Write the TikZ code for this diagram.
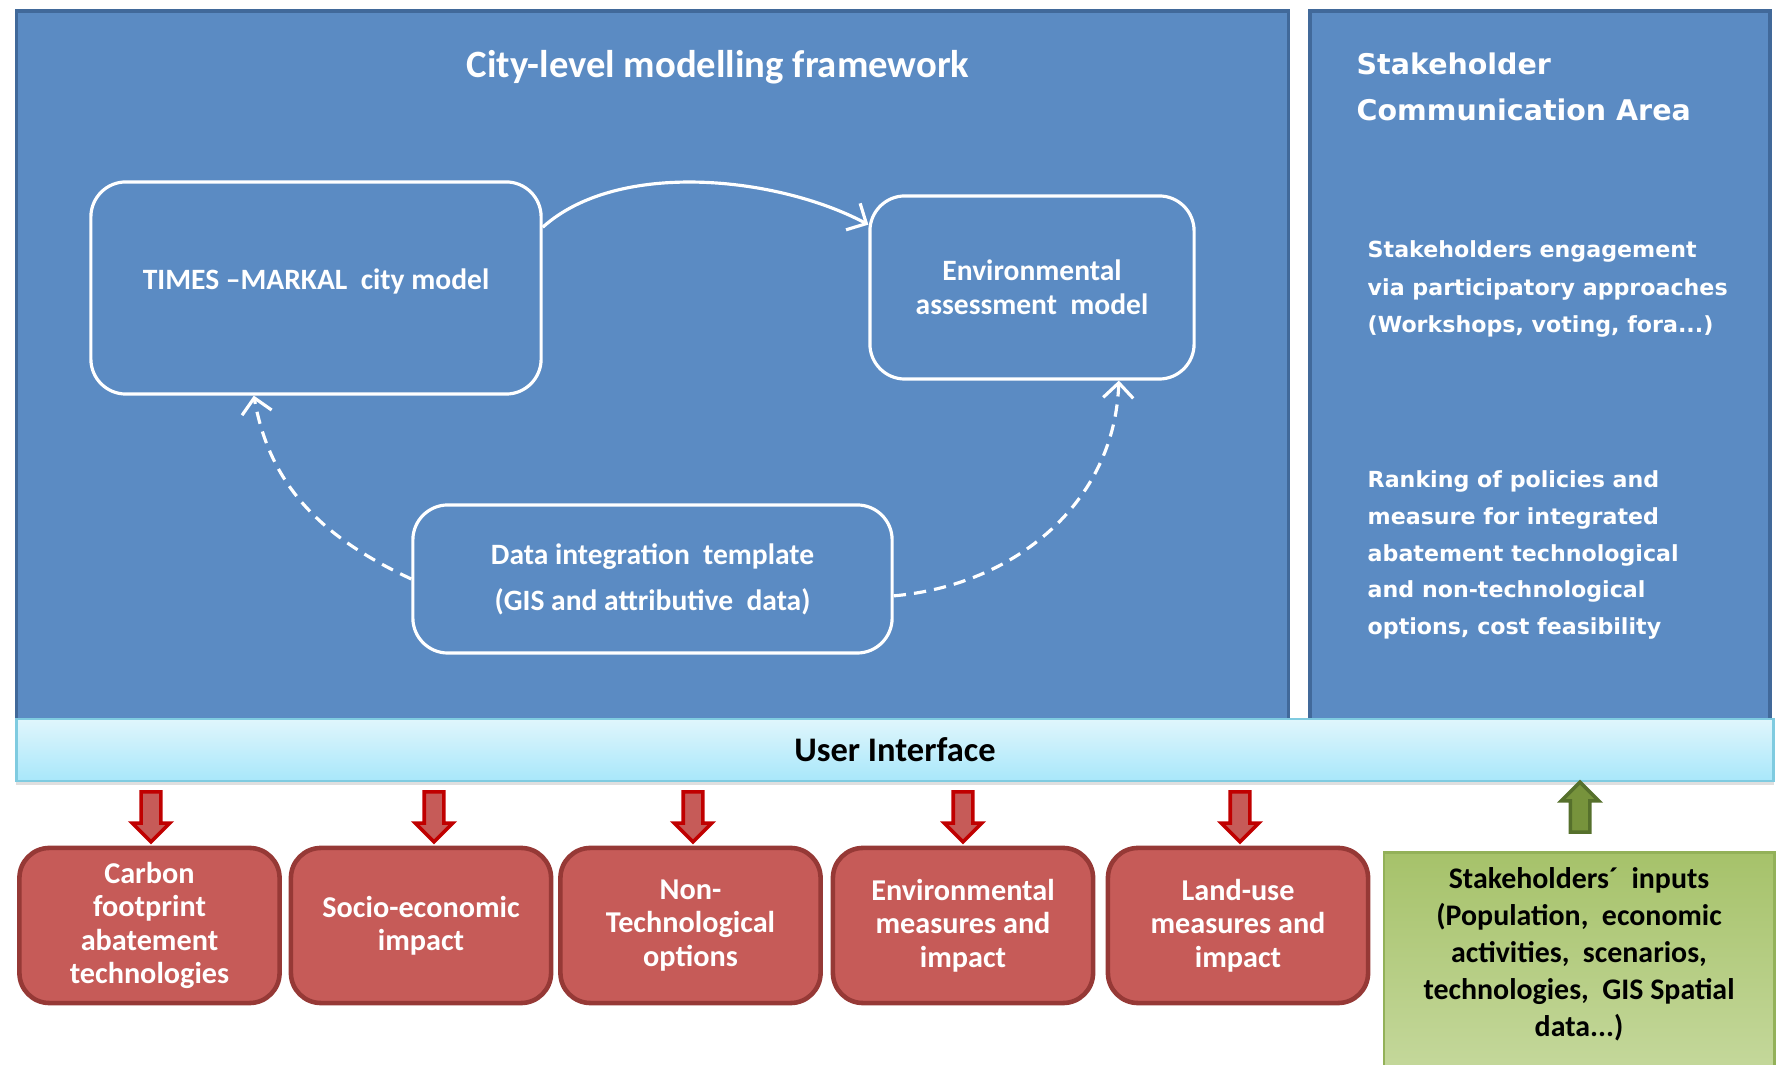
\documentclass[tikz,border=0pt]{standalone}
\usepackage{fontspec}
\setmainfont{Carlito}
\newfontfamily\widefont{DejaVu Sans}
\usetikzlibrary{shapes.arrows, arrows.meta, positioning, shadows}

\definecolor{frameblue}{HTML}{5B8BC3}
\definecolor{frameedge}{HTML}{41699A}
\definecolor{boxred}{HTML}{C65B58}
\definecolor{boxredline}{HTML}{963936}
\definecolor{arrowred}{HTML}{C00000}
\definecolor{uitop}{HTML}{E0F6FC}
\definecolor{uibot}{HTML}{A8E7FA}
\definecolor{uiline}{HTML}{7FCBE0}
\definecolor{greentop}{HTML}{A6C26A}
\definecolor{greenbot}{HTML}{C6D99E}
\definecolor{greenline}{HTML}{93B159}
\definecolor{arrowgreen}{HTML}{77933C}
\definecolor{arrowgreenline}{HTML}{56702C}

\begin{document}
\begin{tikzpicture}[x=0.01cm, y=0.01cm,
    area/.style={
        rectangle,
        draw=frameedge,
        line width=1pt,
        fill=frameblue
    },
    model/.style={rectangle, rounded corners=0.35cm, draw=white, line width=0.9pt,
        text=white, align=center, font=\bfseries\fontsize{8.4}{9.6}\selectfont},
    impact/.style={rectangle, rounded corners=0.3cm, draw=boxredline, line width=1.3pt,
        fill=boxred, text=white, minimum width=2.6cm, minimum height=1.55cm,
        align=center, font=\bfseries\fontsize{8.6}{9.5}\selectfont},
    paneltext/.style={text=white, align=left, inner sep=0pt, anchor=west},
    downarrow/.style={single arrow, shape border rotate=270, draw=arrowred, line width=1pt,
        fill=boxred, minimum height=0.5cm, minimum width=0.34cm,
        single arrow head extend=0.09cm, inner sep=0.08cm},
    flow/.style={white, line width=0.9pt, -{Straight Barb[length=1.5mm, width=3mm]}},
    feedback/.style={flow, dash pattern=on 3.5pt off 2.3pt}
]
\useasboundingbox (0,0) rectangle (1791,-1065);

% the two blue areas and the user interface bar
\node[area, minimum width=12.71cm, minimum height=7.09cm] (frame) at (652.5,-365.5) {};
\node[area, minimum width=4.6cm, minimum height=7.11cm] (stake) at (1540,-366.5) {};
\node[rectangle, draw=uiline, line width=0.8pt, top color=uitop, bottom color=uibot,
      minimum width=17.56cm, minimum height=0.62cm,
      drop shadow={shadow xshift=0pt, shadow yshift=-1.2pt, opacity=0.25},
      font=\bfseries\fontsize{9.8}{12}\selectfont] (ui) at (895,-750) {User Interface};

% modelling framework
\node[text=white, font=\bfseries\fontsize{11}{13}\selectfont] (title) at (718,-67) {City-level modelling framework};
\node[model, minimum width=4.5cm, minimum height=2.12cm, text depth=0.17cm] (times) at (316,-288) {TIMES –MARKAL\ \ city model};
\node[model, minimum width=3.24cm, minimum height=1.83cm] (env) at (1032,-287.5) {Environmental\\assessment\ \ model};
\node[model, minimum width=4.79cm, minimum height=1.48cm, font=\bfseries\fontsize{8.4}{10}\selectfont] (data) at (652.5,-579) {Data integration\ \ template\\[3pt](GIS and attributive\ \ data)};

\draw[flow] (times.15) to[out=42, in=152, looseness=0.8] (env.159);
\draw[feedback] (data.west) to[out=155, in=-80] (times.240);
\draw[feedback] (data.-4) to[out=5, in=-92] (env.-47);

% stakeholder area
\node[paneltext, font=\widefont\bfseries\fontsize{8.1}{13.3}\selectfont] (stitle) at (1356,-87) {Stakeholder\\Communication Area};
\node[paneltext, font=\widefont\bfseries\fontsize{6.3}{10.7}\selectfont] (engage) at (1367,-289) {Stakeholders engagement\\via participatory approaches\\(Workshops, voting, fora...)};
\node[paneltext, font=\widefont\bfseries\fontsize{6.3}{10.5}\selectfont] (ranking) at (1367,-555) {Ranking of policies and\\measure for integrated\\abatement technological\\and non-technological\\options, cost feasibility};

% outputs
\node[impact] (carbon) at (149.5,-925.5) {Carbon\\footprint\\abatement\\technologies};
\node[impact] (socio) at (421,-925.5) {Socio-economic\\impact};
\node[impact] (nontech) at (690.5,-925.5) {Non-\\Technological\\options};
\node[impact] (envimp) at (963,-925.5) {Environmental\\measures and\\impact};
\node[impact] (landuse) at (1238,-925.5) {Land-use\\measures and\\impact};

\node[downarrow] (arr1) at (151,-812) {};
\node[downarrow] (arr2) at (434,-812) {};
\node[downarrow] (arr3) at (693,-812) {};
\node[downarrow] (arr4) at (963,-812) {};
\node[downarrow] (arr5) at (1240,-812) {};

% inputs
\node[rectangle, draw=greenline, line width=0.8pt, top color=greentop, bottom color=greenbot,
      minimum width=3.9cm, minimum height=2.3cm, anchor=north] (inputs) at (1579,-851) {};
\node[align=center, font=\bfseries\fontsize{8.5}{10.5}\selectfont] (inputstext) at ([yshift=-1.03cm]inputs.north)
    {Stakeholders´\ \ inputs\\(Population,\ \ economic\\activities,\ \ scenarios,\\technologies,\ \ GIS Spatial\\data...)};
\node[downarrow, shape border rotate=90, draw=arrowgreenline, fill=arrowgreen] (arr6) at (1580,-812) {};

\end{tikzpicture}
\end{document}
